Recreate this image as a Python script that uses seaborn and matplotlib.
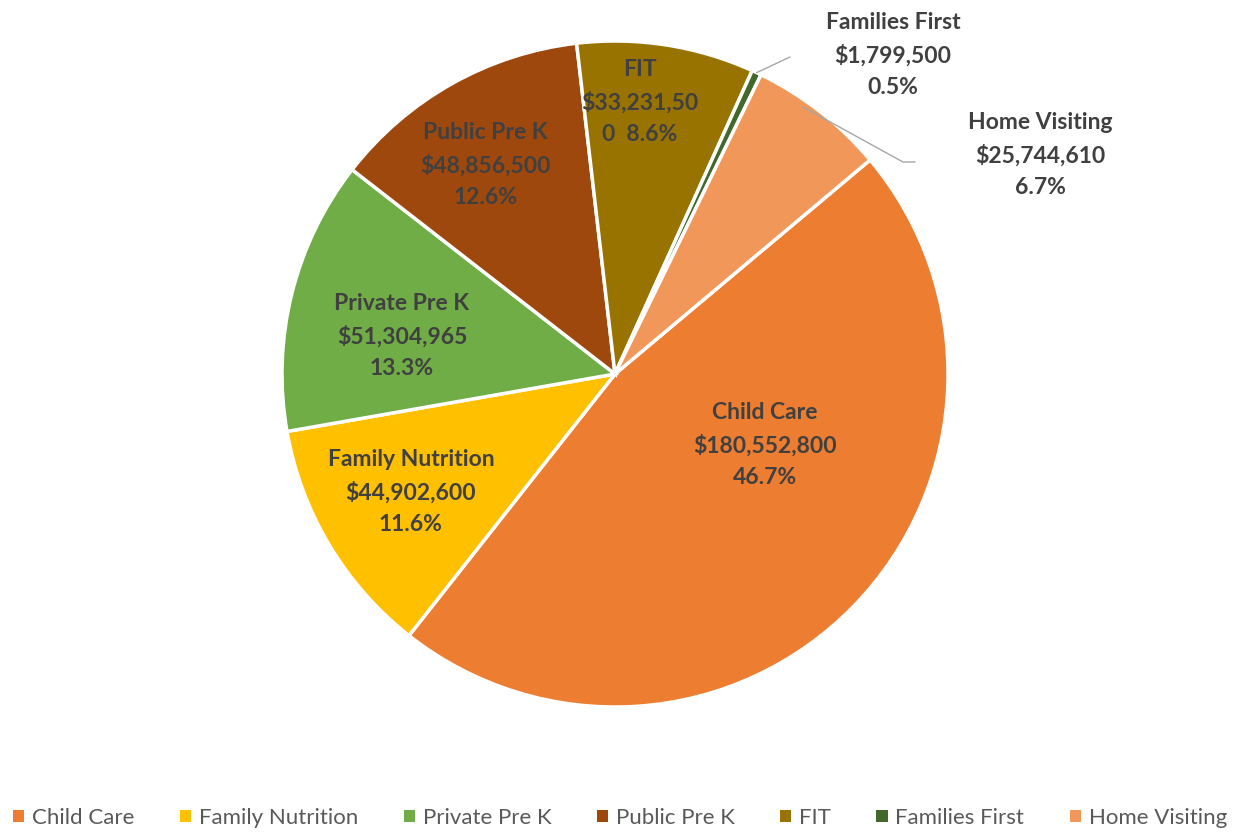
import numpy as np
import matplotlib
matplotlib.use("Agg")
import matplotlib.pyplot as plt
import seaborn as sns
from matplotlib.patches import Patch

sns.set_theme(style="white")
plt.rcParams['font.family'] = ['Lato', 'DejaVu Sans']

categories = ["Child Care", "Family Nutrition", "Private Pre K", "Public Pre K",
              "FIT", "Families First", "Home Visiting"]
values = [180552800, 44902600, 51304965, 48856500, 33231500, 1799500, 25744610]
value_labels = ["$180,552,800", "$44,902,600", "$51,304,965", "$48,856,500",
                "$33,231,50\n0", "$1,799,500", "$25,744,610"]
pct_labels = ["46.7%", "11.6%", "13.3%", "12.6%", "8.6%", "0.5%", "6.7%"]
colors = ["#ED7D31", "#FFC000", "#70AD47", "#9E480E", "#997300", "#43682B", "#F1975A"]

fig = plt.figure(figsize=(12.45, 8.32), dpi=100)
R = 333.0
cx, cy = 615.0, 374.0
half = 340.0
ax = fig.add_axes([(cx - half) / 1245, (832 - cy - half) / 832, 2 * half / 1245, 2 * half / 832])
lim = half / R
ax.set_aspect("equal")
ax.axis("off")

wedges, _ = ax.pie(values, colors=colors, startangle=40, counterclock=False,
                   radius=1.0, wedgeprops=dict(edgecolor="white", linewidth=2.5))
ax.set_xlim(-lim, lim)
ax.set_ylim(-lim, lim)

tc = "#404040"
fs = 16.5
ls = 1.6
inside = {
    0: (0.45, -0.213),
    1: (-0.613, -0.354),
    2: (-0.64, 0.114),
    3: (-0.39, 0.628),
}
for i, (x, y) in inside.items():
    ax.text(x, y, f"{categories[i]}\n{value_labels[i]}\n{pct_labels[i]}", ha="center", va="center",
            fontsize=fs, fontweight="bold", color=tc, linespacing=ls)

ax.text(0.075, 0.817, "FIT\n$33,231,50\n0  8.6%", ha="center", va="center",
        fontsize=fs, fontweight="bold", color=tc, linespacing=ls)

def edge_point(w, frac=0.5, r=1.0):
    th = np.deg2rad(w.theta1 + (w.theta2 - w.theta1) * frac)
    return r * np.cos(th), r * np.sin(th)

x0, y0 = edge_point(wedges[5], 0.5, 1.0)
ax.plot([x0, (790 - cx) / R], [y0, (374 - 57) / R], color="#A6A6A6", lw=1)
ax.text((893 - cx) / R, (374 - 55) / R, f"{categories[5]}\n{value_labels[5]}\n{pct_labels[5]}",
        ha="center", va="center", fontsize=fs, fontweight="bold", color=tc, linespacing=ls)

x1, y1 = (803 - cx) / R, (374 - 107) / R
ax.plot([x1, (903 - cx) / R, (915 - cx) / R], [y1, (374 - 162) / R, (374 - 162) / R],
        color="#A6A6A6", lw=1)
ax.text((1040 - cx) / R, (374 - 155) / R, f"{categories[6]}\n{value_labels[6]}\n{pct_labels[6]}",
        ha="center", va="center", fontsize=fs, fontweight="bold", color=tc, linespacing=ls)

handles = [Patch(facecolor=c, edgecolor="none") for c in colors]
fig.legend(handles, categories, loc="center", bbox_to_anchor=(0.498, 1 - 818 / 832), ncol=7,
           frameon=False, fontsize=16, labelcolor="#595959", handlelength=0.5,
           handleheight=0.5, handletextpad=0.35, columnspacing=2.05)

fig.savefig("out.png", dpi=100, facecolor="white")
